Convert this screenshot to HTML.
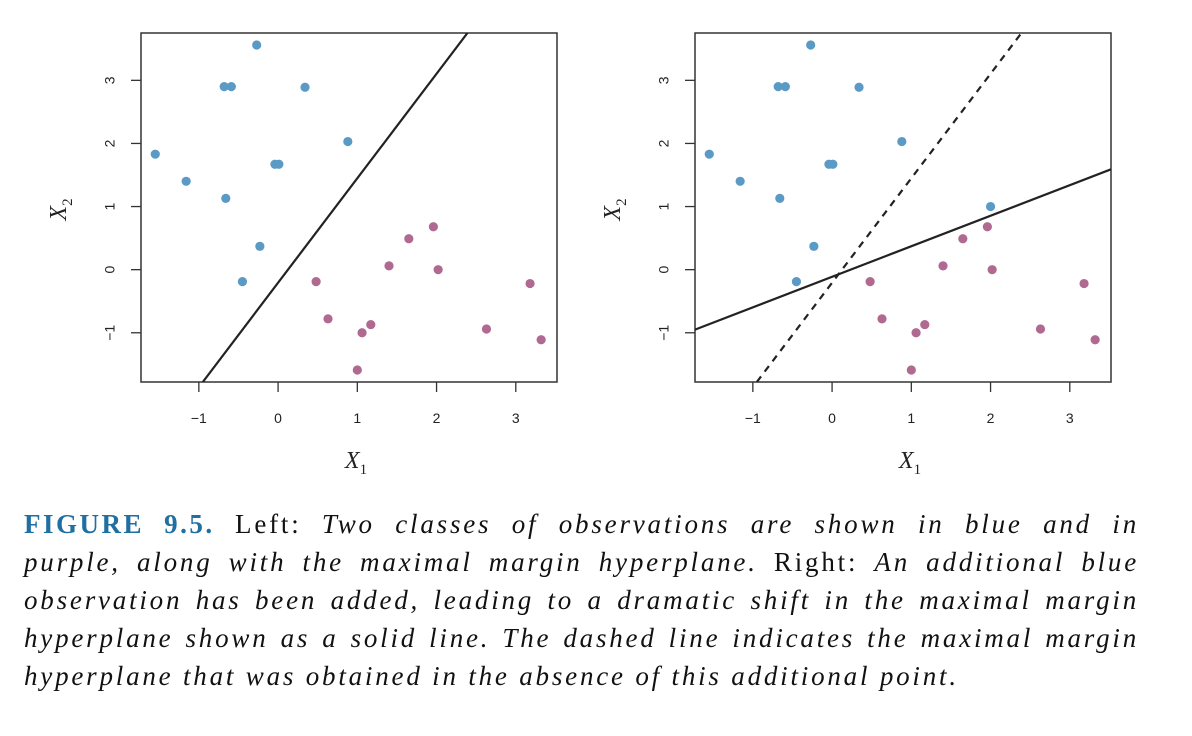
<!DOCTYPE html>
<html><head><meta charset="utf-8"><style>
body{margin:0;background:#fff;width:1192px;height:736px;overflow:hidden}
svg{position:absolute;left:0;top:0}
.cap{position:absolute;left:24px;top:505px;width:1115px;font-family:"Liberation Serif",serif;font-size:27px;line-height:38px;color:#111;letter-spacing:2.8px}
.cap div{text-align:justify;text-align-last:justify;white-space:nowrap;height:38px}
.cap div.last{text-align-last:left}
.cap i{font-style:italic}
.fig{color:#1f6fa3;font-weight:bold;letter-spacing:2.5px}
</style></head><body>
<svg id="chart" width="1192" height="500" xmlns="http://www.w3.org/2000/svg"></svg>
<div class="cap">
<div><span class="fig">FIGURE 9.5.</span> Left: <i>Two classes of observations are shown in blue and in</i></div>
<div><i>purple, along with the maximal margin hyperplane.</i> Right: <i>An additional blue</i></div>
<div><i>observation has been added, leading to a dramatic shift in the maximal margin</i></div>
<div><i>hyperplane shown as a solid line. The dashed line indicates the maximal margin</i></div>
<div class="last"><i>hyperplane that was obtained in the absence of this additional point.</i></div>
</div>
<script>
const blueX=[-0.27,-0.68,-0.59,0.34,-1.55,0.88,-0.04,0.01,-1.16,-0.66,-0.23,-0.45];
const blueY=[3.56,2.9,2.9,2.89,1.83,2.03,1.67,1.67,1.40,1.13,0.37,-0.19];
const purpleX=[0.48,0.63,1.40,1.65,1.96,2.02,1.06,1.17,1.0,2.63,3.18,3.32];
const purpleY=[-0.19,-0.78,0.06,0.49,0.68,0.0,-1.0,-0.87,-1.59,-0.94,-0.22,-1.11];
const extraX=[2.0];
const extraY=[1.0];
const oldLine=[[-0.95,-1.78],[2.39,3.75]];
const newLine=[[-1.73,-0.95],[3.52,1.59]];
const xTicks=[-1,0,1,2,3];
const yTicks=[-1,0,1,2,3];
const xMin=-1.73,xMax=3.52,yMin=-1.78,yMax=3.75;
const NS="http://www.w3.org/2000/svg";
const svg=document.getElementById('chart');
function mk(t,a,p){const e=document.createElementNS(NS,t);for(const k in a)e.setAttribute(k,a[k]);(p||svg).appendChild(e);return e;}
function panel(ox,right){
  const L=ox,R=ox+416,T=33,B=382;
  const sx=v=>L+(v-xMin)/(xMax-xMin)*(R-L);
  const sy=v=>B-(v-yMin)/(yMax-yMin)*(B-T);
  const g=mk('g',{});
  
  
  const clip=mk('clipPath',{id:'c'+ox},g);mk('rect',{x:L,y:T,width:R-L,height:B-T},clip);
  const fr=mk('rect',{x:L,y:T,width:R-L,height:B-T,fill:'none',stroke:'#333','stroke-width':1.5},g);
  
  xTicks.forEach(t=>{const x=sx(t);mk('line',{x1:x,x2:x,y1:B,y2:B+10,stroke:'#333','stroke-width':1.3},g);
    const tx=mk('text',{x:x,y:423,'text-anchor':'middle','font-family':'Liberation Sans,sans-serif','font-size':14,fill:'#222'},g);tx.textContent=t<0?'\u2212'+(-t):t;
    });
  yTicks.forEach(t=>{const y=sy(t);mk('line',{x1:L,x2:L-10,y1:y,y2:y,stroke:'#333','stroke-width':1.3},g);
    const tx=mk('text',{x:0,y:0,transform:`translate(${L-30},${y}) rotate(-90)`,'text-anchor':'middle','dominant-baseline':'middle','font-family':'Liberation Sans,sans-serif','font-size':14,fill:'#222'},g);tx.textContent=t<0?'\u2212'+(-t):t;
    });
  const xl=mk('text',{x:(L+R)/2+7,y:468,'text-anchor':'middle','font-family':'Liberation Serif,serif','font-style':'italic','font-size':24,fill:'#222'},g);
  xl.innerHTML='X<tspan font-size="15" font-style="normal" dy="6">1</tspan>';
  
  const yl=mk('text',{x:0,y:0,transform:`translate(${L-75},${(T+B)/2+2}) rotate(-90)`,'text-anchor':'middle','font-family':'Liberation Serif,serif','font-style':'italic','font-size':24,fill:'#222'},g);
  yl.innerHTML='X<tspan font-size="15" font-style="normal" dy="6">2</tspan>';
  
  const lg=mk('g',{'clip-path':`url(#c${ox})`},g);
  const l1=mk('line',{x1:sx(oldLine[0][0]),y1:sy(oldLine[0][1]),x2:sx(oldLine[1][0]),y2:sy(oldLine[1][1]),stroke:'#222','stroke-width':2.2},lg);
  if(right)l1.setAttribute('stroke-dasharray','7,6');
  
  if(right){const l2=mk('line',{x1:sx(newLine[0][0]),y1:sy(newLine[0][1]),x2:sx(newLine[1][0]),y2:sy(newLine[1][1]),stroke:'#222','stroke-width':2.2},lg);
    }
  const pts=(X,Y,c,n)=>X.forEach((v,i)=>{const p=mk('circle',{cx:sx(v),cy:sy(Y[i]),r:4.6,fill:c},g);
    });
  pts(blueX,blueY,'#5a9ac5','blue-point');
  pts(purpleX,purpleY,'#b06990','purple-point');
  if(right)pts(extraX,extraY,'#5a9ac5','added-blue-point');
}
panel(141,false);
panel(695,true);
</script>
</body></html>
